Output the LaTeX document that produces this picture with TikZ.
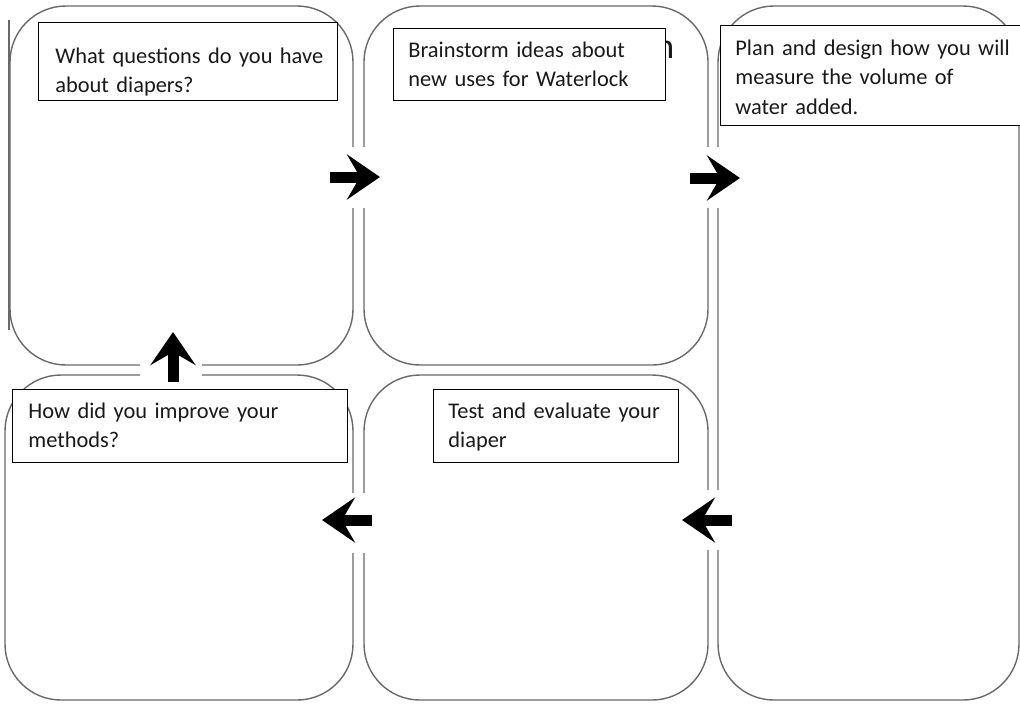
\documentclass[tikz,border=0pt]{standalone}
\usepackage{fontspec}
\setmainfont{Carlito}
\usetikzlibrary{arrows.meta}
\definecolor{framegray}{RGB}{105,105,105}
\definecolor{inkblack}{RGB}{25,25,25}

\tikzset{
  stagebox/.style={draw=framegray, line width=0.7pt, rounded corners=28pt, inner sep=0pt},
  promptbox/.style={draw=black, line width=0.6pt, fill=white, inner sep=0pt, anchor=north west},
  prompttext/.style={align=left, text width=180pt, anchor=base west, inner sep=0pt,
    font=\fontsize{11.2}{14.8}\selectfont, text=inkblack},
  cutout/.style={fill=white, inner sep=0pt},
  flow/.style={line width=5.5pt, -{Stealth[length=16.5pt, width=22.5pt, inset=6.5pt]}},
}

\begin{document}
\begin{tikzpicture}[x=0.5pt, y=-0.5pt]
  \useasboundingbox (0,0) rectangle (1020,703);

  % Stage frames
  \node[stagebox, minimum width=171.5pt, minimum height=179.5pt] (askframe) at (181.5,185.5) {};
  \node[stagebox, minimum width=172pt, minimum height=179.5pt] (ideaframe) at (536,185.5) {};
  \node[stagebox, minimum width=150.5pt, minimum height=347pt] (planframe) at (868.5,353) {};
  \node[stagebox, minimum width=174pt, minimum height=162.5pt] (improveframe) at (179,537.5) {};
  \node[stagebox, minimum width=172pt, minimum height=162.5pt] (testframe) at (536,537.5) {};

  % stray edge on the far left
  \draw[framegray, line width=0.7pt] (9,20) -- (9,330);

  % White cut-outs behind the arrows
  \node[cutout, minimum width=12pt, minimum height=30.5pt] (cutA) at (359,177.5) {};
  \node[cutout, minimum width=12pt, minimum height=30.5pt] (cutB) at (713,177.5) {};
  \node[cutout, minimum width=31pt, minimum height=10pt] (cutC) at (171,370) {};
  \node[cutout, minimum width=12pt, minimum height=30pt] (cutD) at (359,523) {};
  \node[cutout, minimum width=12pt, minimum height=30pt] (cutE) at (713,520) {};

  % Arrows between the stages
  \coordinate (askout) at (330,177);
  \coordinate (ideain) at (380,177);
  \coordinate (ideaout) at (690,178);
  \coordinate (planin) at (740,178);
  \coordinate (planout) at (732,520);
  \coordinate (testin) at (682,520);
  \coordinate (testout) at (372,520);
  \coordinate (improvein) at (322,520);
  \coordinate (improveout) at (173,382);
  \coordinate (askin) at (173,332);
  \draw[flow] (askout) -- (ideain);
  \draw[flow] (ideaout) -- (planin);
  \draw[flow] (planout) -- (testin);
  \draw[flow] (testout) -- (improvein);
  \draw[flow] (improveout) -- (askin);

  % letter peeking out behind the brainstorm box
  \node[anchor=base west, inner sep=0pt, font=\fontsize{18}{18}\selectfont, text=inkblack] (peek) at (655,58) {n};

  % Prompt boxes
  \node[promptbox, minimum width=149.5pt, minimum height=39pt] (askbox) at (38,22) {};
  \node[prompttext] (asktext) at (55,63) {What questions do you have\\about diapers?};
  \node[promptbox, minimum width=136pt, minimum height=36pt] (ideabox) at (393,28) {};
  \node[prompttext] (ideatext) at (408,57) {Brainstorm ideas about\\new uses for Waterlock};
  \node[promptbox, minimum width=152.5pt, minimum height=50pt] (planbox) at (720,25) {};
  \node[prompttext] (plantext) at (735,55) {Plan and design how you will\\measure the volume of\\water added.};
  \node[promptbox, minimum width=167.5pt, minimum height=36.5pt] (improvebox) at (12,389) {};
  \node[prompttext] (improvetext) at (28,418) {How did you improve your\\methods?};
  \node[promptbox, minimum width=122.5pt, minimum height=36.5pt] (testbox) at (433,389) {};
  \node[prompttext] (testtext) at (448,418) {Test and evaluate your\\diaper};
\end{tikzpicture}
\end{document}
